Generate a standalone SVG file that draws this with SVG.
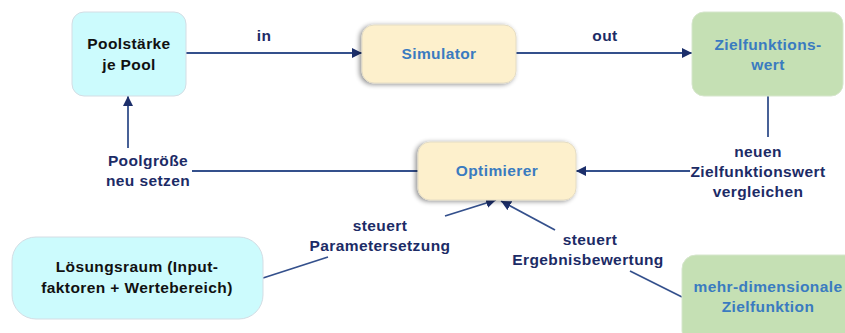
<svg xmlns="http://www.w3.org/2000/svg" width="845" height="333" viewBox="0 0 845 333">
  <defs>
    <marker id="arrow" viewBox="0 0 10 10" refX="10" refY="5" markerWidth="10" markerHeight="10" markerUnits="userSpaceOnUse" orient="auto">
      <path d="M0,0 L10,5 L0,10 z" fill="#1c2f6b"/>
    </marker>
    <filter id="shadow" x="-20%" y="-30%" width="140%" height="160%">
      <feGaussianBlur in="SourceAlpha" stdDeviation="2.5"/>
      <feOffset dx="-2" dy="1" result="b"/>
      <feComponentTransfer><feFuncA type="linear" slope="0.45"/></feComponentTransfer>
      <feMerge><feMergeNode/><feMergeNode in="SourceGraphic"/></feMerge>
    </filter>
    <style>
      text { font-family: "Liberation Sans", Arial, sans-serif; font-weight: bold; font-size: 15.5px; letter-spacing: 0.4px; text-anchor: middle; }
      .dark { fill: #111111; }
      .blue { fill: #3a7bc0; }
      .lbl { fill: #1c2b66; }
      .cyan { fill: #ccfbfd; stroke: #d4dde4; stroke-width: 1; }
      .cream { fill: #fdf0cc; stroke: #e4dcc4; stroke-width: 1; }
      .green { fill: #c5e0b4; stroke: #d6e6cc; stroke-width: 1; }
      .conn { fill: none; stroke: #34508c; stroke-width: 1.8; }
    </style>
  </defs>
  <rect width="845" height="333" fill="#ffffff"/>

  <g id="connectors">
    <path class="conn" d="M186,53 H362" marker-end="url(#arrow)"/>
    <path class="conn" d="M516,53 H692" marker-end="url(#arrow)"/>
    <path class="conn" d="M768,96 V137"/>
    <path class="conn" d="M690,171 H576" marker-end="url(#arrow)"/>
    <path class="conn" d="M418,171 H192"/>
    <path class="conn" d="M128,148 V96" marker-end="url(#arrow)"/>
    <path class="conn" d="M263,278 L328,257"/>
    <path class="conn" d="M445,216 L496,200" marker-end="url(#arrow)"/>
    <path class="conn" d="M682,297 L630,271"/>
    <path class="conn" d="M555,230 L501,201" marker-end="url(#arrow)"/>
    <text class="lbl" x="264" y="41">in</text>
    <text class="lbl" x="605" y="41">out</text>
    <text class="lbl" x="758" y="157">neuen</text>
    <text class="lbl" x="758" y="177">Zielfunktionswert</text>
    <text class="lbl" x="758" y="197">vergleichen</text>
    <text class="lbl" x="148" y="166">Poolgröße</text>
    <text class="lbl" x="148" y="186">neu setzen</text>
    <text class="lbl" x="380" y="231">steuert</text>
    <text class="lbl" x="380" y="251">Parametersetzung</text>
    <text class="lbl" x="590" y="245">steuert</text>
    <text class="lbl" x="588" y="265">Ergebnisbewertung</text>
  </g>

  <g id="poolstaerke">
    <rect class="cyan" x="72" y="12" width="114" height="84" rx="12"/>
    <text class="dark" x="129" y="49">Poolstärke</text>
    <text class="dark" x="129" y="70">je Pool</text>
  </g>

  <g id="simulator">
    <rect class="cream" x="362" y="25" width="154" height="58" rx="12" filter="url(#shadow)"/>
    <text class="blue" x="439" y="59">Simulator</text>
  </g>

  <g id="zielfunktionswert">
    <rect class="green" x="692" y="12" width="151" height="84" rx="12"/>
    <text class="blue" x="768" y="50">Zielfunktions-</text>
    <text class="blue" x="768" y="70">wert</text>
  </g>

  <g id="optimierer">
    <rect class="cream" x="418" y="142" width="158" height="58" rx="12" filter="url(#shadow)"/>
    <text class="blue" x="497" y="176">Optimierer</text>
  </g>

  <g id="loesungsraum">
    <rect class="cyan" x="12" y="237" width="251" height="82" rx="24"/>
    <text class="dark" x="137" y="272">Lösungsraum (Input-</text>
    <text class="dark" x="137" y="293">faktoren + Wertebereich)</text>
  </g>

  <g id="mehrdimensional">
    <rect class="green" x="682" y="255" width="180" height="90" rx="14"/>
    <text class="blue" x="768" y="292">mehr-dimensionale</text>
    <text class="blue" x="768" y="312">Zielfunktion</text>
  </g>
</svg>
